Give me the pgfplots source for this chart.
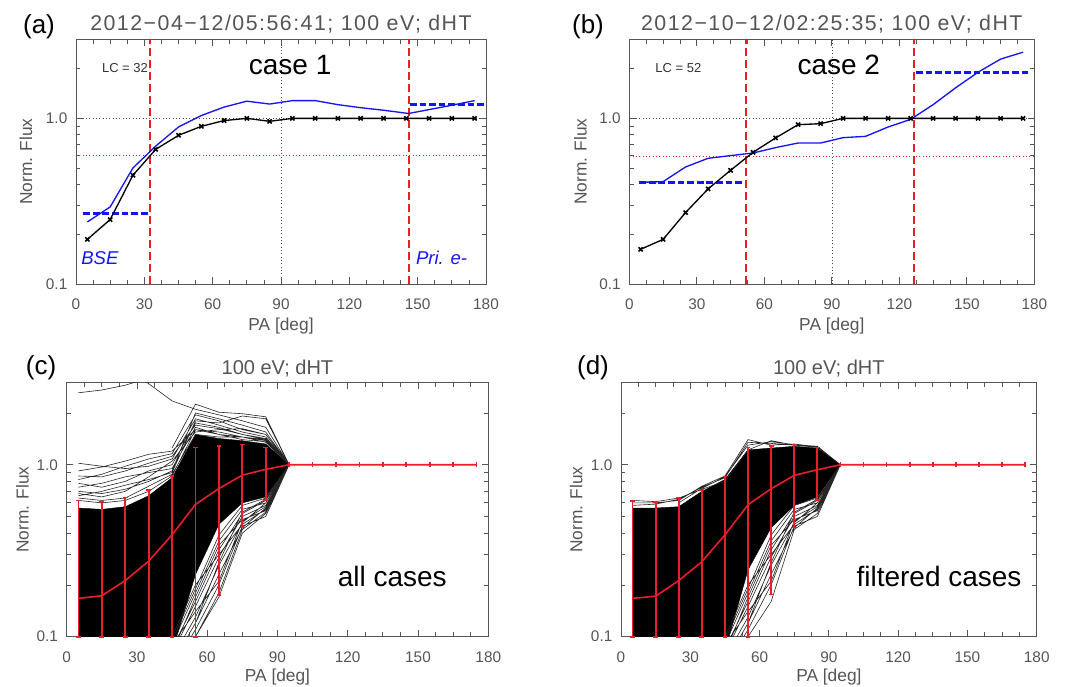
\documentclass[border=0pt]{standalone}
\usepackage{pgfplots}
\pgfplotsset{compat=1.18}
\usepackage{fontspec}
\setmainfont{Liberation Sans}
\newfontfamily\titlefont[LetterSpace=7]{Liberation Sans}
\definecolor{idlgray}{RGB}{85,85,85}
\definecolor{idlred}{RGB}{232,30,40}
\definecolor{idlblue}{RGB}{20,20,245}
\newcommand\fs[1]{\fontsize{#1}{#1}\selectfont}

\pgfplotsset{
  scale only axis,
  xmin=0, xmax=180, ymin=0.1, ymax=3,
  xtick={0,30,60,90,120,150,180}, minor x tick num=3,
  ytick={0.1,1}, yticklabels={0.1,1.0},
  minor ytick={0.2,0.3,0.4,0.5,0.6,0.7,0.8,0.9,2,3},
  tick align=inside,
  major tick length=5pt, minor tick length=3.2pt,
  axis line style={idlgray, line width=0.7pt},
  every tick/.append style={idlgray, line width=0.6pt},
  /pgf/number format/assume math mode=true,
  every tick label/.append style={font=\fs{11.5}, text=idlgray},
  xticklabel style={yshift=-7.5pt},
  yticklabel style={xshift=-3pt},
  every axis label/.append style={font=\fs{13}, text=idlgray},
  unbounded coords=jump,
  pguide/.style={black!70, dotted, line width=0.5pt},
  prguide/.style={idlred, dotted, line width=0.5pt},
  plcline/.style={idlred, line width=1.2pt, dash pattern=on 6pt off 3pt},
  pbdash/.style={idlblue, line width=2.5pt, dash pattern=on 5pt off 2.2pt},
  pmeas/.style={black, line width=1pt, mark=x, mark size=2.2pt, mark options={line width=1.2pt}},
  pbline/.style={idlblue, line width=1pt},
  psline/.style={black!85, line width=0.45pt},
  pebar/.style={idlred, line width=1.3pt, mark=-, mark size=1.8pt},
  pmline/.style={idlred, line width=1.2pt, mark=|, mark size=1.8pt},
}

\begin{document}
\begin{tikzpicture}
\path[use as bounding box] (0,0) rectangle (815.25pt,-514.5pt);

% ---------------- (a)
\begin{axis}[ymode=log, xtick pos=both, ytick pos=both, anchor=south west,
  at={(57pt,-213pt)}, width=307.5pt, height=183.5pt,
  xlabel={PA [deg]}, ylabel={Norm. Flux},
  xlabel style={at={(axis description cs:0.5,-0.172)}, anchor=center},
  ylabel style={at={(axis description cs:-0.122,0.5)}, anchor=center}]
\addplot[pguide] coordinates {(0,1) (180,1)};
\addplot[pguide] coordinates {(90,0.1) (90,3)};
\addplot[prguide] coordinates {(0,0.6) (180,0.6)};
\addplot[plcline] coordinates {(32.5,0.1) (32.5,3) (32.5,nan) (146.3,0.1) (146.3,3)};
\addplot[pbline] coordinates {(5,0.237) (15,0.292) (25,0.502) (35,0.68) (45,0.887) (55,1.04) (65,1.17) (75,1.27) (85,1.22) (95,1.28) (105,1.28) (115,1.21) (125,1.16) (135,1.12) (146,1.07) (155,1.13) (165,1.20) (175,1.28)};
\addplot[pbdash] coordinates {(3.2,0.267) (32.5,0.267)};
\addplot[pbdash] coordinates {(146.6,1.21) (179.6,1.21)};
\addplot[pmeas] coordinates {(5,0.186) (15,0.245) (25,0.454) (35,0.65) (45,0.79) (55,0.895) (65,0.97) (75,1.0) (85,0.96) (95,1) (105,1) (115,1) (125,1) (135,1) (145,1) (155,1) (165,1) (175,1)};
\node[font=\fs{9.75}, text=black!80] at (axis cs:21.5,2.01) {LC = 32};
\node[font=\fs{21}] at (axis cs:94,2.11) {case 1};
\node[font=\fs{13.9}\itshape, text=idlblue] at (axis cs:10.5,0.1435) {BSE};
\node[font=\fs{13.9}\itshape, text=idlblue] at (axis cs:160.5,0.1435) {Pri. e-};
\end{axis}

% ---------------- (b)
\begin{axis}[ymode=log, xtick pos=both, ytick pos=both, anchor=south west,
  at={(472pt,-213pt)}, width=303.75pt, height=183.5pt,
  xlabel={PA [deg]}, ylabel={Norm. Flux},
  xlabel style={at={(axis description cs:0.5,-0.172)}, anchor=center},
  ylabel style={at={(axis description cs:-0.121,0.5)}, anchor=center}]
\addplot[pguide] coordinates {(0,1) (180,1)};
\addplot[pguide] coordinates {(90,0.1) (90,3)};
\addplot[prguide] coordinates {(0,0.59) (180,0.59)};
\addplot[plcline] coordinates {(51.9,0.1) (51.9,3) (51.9,nan) (126.4,0.1) (126.4,3)};
\addplot[pbline] coordinates {(5,0.411) (15,0.415) (25,0.509) (35,0.574) (45,0.596) (55,0.618) (65,0.666) (75,0.71) (85,0.71) (95,0.765) (105,0.779) (115,0.887) (125,0.986) (135,1.21) (145,1.53) (155,1.90) (165,2.28) (175,2.51)};
\addplot[pbdash] coordinates {(4.4,0.411) (50.7,0.411)};
\addplot[pbdash] coordinates {(127.4,1.90) (177.7,1.90)};
\addplot[pmeas] coordinates {(5,0.162) (15,0.186) (25,0.270) (35,0.375) (45,0.486) (55,0.624) (65,0.762) (75,0.916) (85,0.929) (95,1) (105,1) (115,1) (125,1) (135,1) (145,1) (155,1) (165,1) (175,1)};
\node[font=\fs{9.75}, text=black!80] at (axis cs:21.8,2.01) {LC = 52};
\node[font=\fs{21}] at (axis cs:93.1,2.11) {case 2};
\end{axis}

% ---------------- (c)
\begin{axis}[ymode=log, xtick pos=both, ytick pos=both, anchor=south west,
  at={(50pt,-477.5pt)}, width=316.2pt, height=190.5pt,
  xlabel={PA [deg]}, ylabel={Norm. Flux},
  xlabel style={at={(axis description cs:0.5,-0.16)}, anchor=center},
  ylabel style={at={(axis description cs:-0.105,0.5)}, anchor=center}]
\addplot[black, fill=black, line width=0.3pt] coordinates {(5,0.56) (15,0.55) (25,0.57) (35,0.66) (45,0.84) (55,1.5) (65,1.42) (75,1.38) (85,1.32) (95,1.0) (85,0.65) (75,0.6) (65,0.45) (55,0.23) (47,0.1) (46.5,0.09) (5,0.09)} -- cycle;
\addplot[psline] coordinates {
(5,2.62)(15,2.72)(25,2.9)(32,3.1) (0,nan)
(33,3.1)(45,2.35)(55,2.1)(65,1.95)(75,1.8)(85,1.65)(95,1) (0,nan)
(45,1.25)(55,2.25)(65,2.02)(75,1.98)(85,1.9)(95,1) (0,nan)
(5,1.02)(15,0.98)(25,0.95)(35,0.98)(45,1.08)(55,1.85)(65,1.7)(75,1.55)(85,1.45)(95,1) (0,nan)
(5,0.92)(15,0.97)(25,1.05)(35,1.15)(45,1.2)(55,1.6)(65,1.55)(75,1.45)(85,1.4)(95,1) (0,nan)
(5,0.86)(15,0.85)(25,0.92)(35,1.02)(45,1.12)(55,1.7)(65,1.62)(75,1.5)(85,1.42)(95,1) (0,nan)
(5,0.82)(15,0.88)(25,0.98)(35,1.08)(45,1.16)(55,1.95)(65,1.8)(75,1.6)(85,1.5)(95,1) (0,nan)
(5,0.78)(15,0.74)(25,0.8)(35,0.92)(45,1.0)(55,1.75)(65,1.65)(75,1.5)(85,1.4)(95,1) (0,nan)
(5,0.74)(15,0.78)(25,0.85)(35,0.9)(45,0.95)(55,1.65)(65,1.5)(75,1.45)(85,1.38)(95,1) (0,nan)
(5,0.7)(15,0.68)(25,0.72)(35,0.8)(45,0.92)(55,2.0)(65,1.85)(75,1.7)(85,1.55)(95,1) (0,nan)
(5,0.68)(15,0.65)(25,0.7)(35,0.85)(45,1.05)(55,1.55)(65,1.6)(75,1.62)(85,1.5)(95,1) (0,nan)
(5,0.66)(15,0.7)(25,0.76)(35,0.82)(45,0.9)(55,1.8)(65,1.75)(75,1.92)(85,1.85)(95,1) (0,nan)
(5,0.64)(15,0.62)(25,0.64)(35,0.75)(45,0.88)(55,1.5)(65,1.45)(75,1.45)(85,1.35)(95,1) (0,nan)
(5,0.62)(15,0.6)(25,0.62)(35,0.7)(45,0.86)(55,1.6)(65,1.5)(75,1.4)(85,1.36)(95,1) (0,nan)
(45,0.06)(55,0.1)(65,0.18)(75,0.42)(85,0.53)(95,1) (0,nan)
(45,0.065)(55,0.11)(65,0.2)(75,0.44)(85,0.5)(95,1) (0,nan)
(45,0.07)(55,0.12)(65,0.23)(75,0.43)(85,0.56)(95,1) (0,nan)
(45,0.075)(55,0.13)(65,0.26)(75,0.46)(85,0.6)(95,1) (0,nan)
(45,0.08)(55,0.15)(65,0.29)(75,0.5)(85,0.58)(95,1) (0,nan)
(45,0.085)(55,0.16)(65,0.32)(75,0.52)(85,0.62)(95,1) (0,nan)
(45,0.09)(55,0.18)(65,0.36)(75,0.55)(85,0.6)(95,1) (0,nan)
(45,0.095)(55,0.19)(65,0.39)(75,0.58)(85,0.64)(95,1) (0,nan)
(45,0.1)(55,0.2)(65,0.3)(75,0.45)(85,0.55)(95,1) (0,nan)
(45,0.09)(55,0.14)(65,0.21)(75,0.47)(85,0.57)(95,1) (0,nan)
(45,0.08)(55,0.17)(65,0.34)(75,0.48)(85,0.54)(95,1) (0,nan)
(45,0.07)(55,0.12)(65,0.27)(75,0.53)(85,0.63)(95,1) (0,nan)
(45,0.06)(55,0.1)(65,0.17)(75,0.4)(85,0.52)(95,1)
};
\addplot[pebar] coordinates {
(5,0.1)(5,0.62)(5,nan)
(15,0.1)(15,0.609)(15,nan)
(25,0.1)(25,0.645)(25,nan)
(35,0.1)(35,0.715)(35,nan)
(45,0.1)(45,0.86)(45,nan)
(55,0.1)(55,1.26)(55,nan)
(65,0.175)(65,1.28)(65,nan)
(75,0.431)(75,1.31)(75,nan)
(85,0.623)(85,1.26)
};
\addplot[pmline] coordinates {(5,0.167) (15,0.173) (25,0.212) (35,0.275) (45,0.391) (55,0.588) (65,0.727) (75,0.87) (85,0.94) (95,1) (105,1) (115,1) (125,1) (135,1) (145,1) (155,1) (165,1) (175,1)};
\node[font=\fs{21}] at (axis cs:139,0.224) {all cases};
\end{axis}

% ---------------- (d)
\begin{axis}[ymode=log, xtick pos=both, ytick pos=both, anchor=south west,
  at={(465.75pt,-477.5pt)}, width=311.8pt, height=190.5pt,
  xlabel={PA [deg]}, ylabel={Norm. Flux},
  xlabel style={at={(axis description cs:0.5,-0.16)}, anchor=center},
  ylabel style={at={(axis description cs:-0.108,0.5)}, anchor=center}]
\addplot[black, fill=black, line width=0.3pt] coordinates {(5,0.56) (15,0.56) (25,0.57) (35,0.7) (45,0.82) (55,1.22) (65,1.25) (75,1.28) (85,1.25) (95,1.0) (85,0.65) (75,0.58) (65,0.43) (55,0.245) (46.8,0.1) (46.3,0.09) (5,0.09)} -- cycle;
\addplot[psline] coordinates {
(5,0.62)(15,0.61)(25,0.64)(35,0.72)(45,0.8)(55,1.22)(65,1.38)(75,1.3)(85,1.28)(95,1) (0,nan)
(5,0.6)(15,0.6)(25,0.62)(35,0.75)(45,0.86)(55,1.4)(65,1.3)(75,1.32)(85,1.27)(95,1) (0,nan)
(5,0.58)(15,0.59)(25,0.63)(35,0.74)(45,0.84)(55,1.35)(65,1.33)(75,1.3)(85,1.26)(95,1) (0,nan)
(25,0.6)(35,0.73)(45,0.85)(55,1.3)(65,1.36)(75,1.31)(85,1.28)(95,1) (0,nan)
(45,0.06)(55,0.1)(65,0.16)(75,0.42)(85,0.52)(95,1) (0,nan)
(45,0.065)(55,0.11)(65,0.2)(75,0.44)(85,0.5)(95,1) (0,nan)
(45,0.07)(55,0.12)(65,0.23)(75,0.43)(85,0.56)(95,1) (0,nan)
(45,0.075)(55,0.13)(65,0.26)(75,0.46)(85,0.6)(95,1) (0,nan)
(45,0.08)(55,0.15)(65,0.29)(75,0.5)(85,0.58)(95,1) (0,nan)
(45,0.085)(55,0.16)(65,0.32)(75,0.52)(85,0.62)(95,1) (0,nan)
(45,0.09)(55,0.18)(65,0.36)(75,0.55)(85,0.6)(95,1) (0,nan)
(45,0.095)(55,0.19)(65,0.39)(75,0.58)(85,0.64)(95,1) (0,nan)
(45,0.1)(55,0.2)(65,0.3)(75,0.45)(85,0.55)(95,1) (0,nan)
(45,0.09)(55,0.14)(65,0.21)(75,0.47)(85,0.57)(95,1) (0,nan)
(45,0.08)(55,0.17)(65,0.34)(75,0.48)(85,0.54)(95,1) (0,nan)
(45,0.07)(55,0.12)(65,0.27)(75,0.53)(85,0.63)(95,1)
};
\addplot[pebar] coordinates {
(5,0.1)(5,0.617)(5,nan)
(15,0.1)(15,0.61)(15,nan)
(25,0.1)(25,0.64)(25,nan)
(35,0.1)(35,0.715)(35,nan)
(45,0.1)(45,0.855)(45,nan)
(55,0.1)(55,1.26)(55,nan)
(65,0.176)(65,1.28)(65,nan)
(75,0.431)(75,1.31)(75,nan)
(85,0.625)(85,1.26)
};
\addplot[pmline] coordinates {(5,0.167) (15,0.172) (25,0.212) (35,0.273) (45,0.391) (55,0.585) (65,0.725) (75,0.867) (85,0.935) (95,1) (105,1) (115,1) (125,1) (135,1) (145,1) (155,1) (165,1) (175,1)};
\node[font=\fs{21}] at (axis cs:137.7,0.224) {filtered cases};
\end{axis}

% titles
\node[anchor=base, text=idlgray, font=\titlefont\fs{16}] at (210.75pt,-22.5pt) {2012−04−12/05:56:41; 100 eV; dHT};
\node[anchor=base, text=idlgray, font=\titlefont\fs{16}] at (623.85pt,-22.5pt) {2012−10−12/02:25:35; 100 eV; dHT};
\node[anchor=base, text=idlgray, font=\fs{15}] at (208.1pt,-280.7pt) {100 eV; dHT};
\node[anchor=base, text=idlgray, font=\fs{15}] at (621.6pt,-280.7pt) {100 eV; dHT};

% panel letters
\node[font=\fs{19.5}] at (29.25pt,-20.25pt) {(a)};
\node[font=\fs{19.5}] at (441pt,-20.25pt) {(b)};
\node[font=\fs{19.5}] at (30.75pt,-275.5pt) {(c)};
\node[font=\fs{19.5}] at (444.75pt,-275.5pt) {(d)};
\end{tikzpicture}
\end{document}
